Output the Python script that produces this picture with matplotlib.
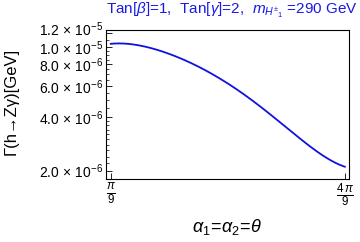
import numpy as np
import matplotlib
matplotlib.use("Agg")
import matplotlib.pyplot as plt
import matplotlib.transforms as mtransforms
from matplotlib.ticker import FixedLocator, NullFormatter

plt.rcParams['font.family'] = ['Liberation Sans', 'DejaVu Sans']
plt.rcParams['mathtext.fontset'] = 'custom'
plt.rcParams['mathtext.rm'] = 'Liberation Sans'
plt.rcParams['mathtext.it'] = 'Liberation Sans:italic'
plt.rcParams['mathtext.sf'] = 'Liberation Sans'

# data
theta = [0.349, 0.411, 0.492, 0.600, 0.747, 0.837, 0.882, 0.985, 1.137, 1.253, 1.396]
gamma = [1.044e-5, 1.046e-5, 1.016e-5, 9.25e-6, 7.62e-6, 6.69e-6, 6.14e-6,
         4.93e-6, 3.48e-6, 2.67e-6, 2.10e-6]
ytick_vals = [2.0e-6, 4.0e-6, 6.0e-6, 8.0e-6, 1.0e-5, 1.2e-5]
ytick_labels = [r'$2.0\,\times\,10^{-6}$', r'$4.0\,\times\,10^{-6}$', r'$6.0\,\times\,10^{-6}$',
                r'$8.0\,\times\,10^{-6}$', r'$1.0\,\times\,10^{-5}$', r'$1.2\,\times\,10^{-5}$']
xtick_vals = [np.pi / 9, 4 * np.pi / 9]
xtick_labels = [r'$\frac{\pi}{9}$', r'$\frac{4\,\pi}{9}$']

# smooth curve through read points (in log space)
tt = np.linspace(theta[0], theta[-1], 300)
coef = np.polyfit(theta, np.log10(gamma), 5)
gg = 10 ** np.polyval(coef, tt)

fig = plt.figure(figsize=(3.6, 2.42), dpi=100)
ax = fig.add_axes([0.294, 0.2603, 0.675, 0.6157])
ax.plot(tt, gg, color='#1010e0', lw=1.3)
ax.set_yscale('log')
ax.set_xlim(0.327, 1.414)
ax.set_ylim(1.79e-6, 1.25e-5)

ax.yaxis.set_major_locator(FixedLocator(ytick_vals))
ax.set_yticklabels(ytick_labels)
minor = [1.8e-6, 2.2e-6, 2.4e-6, 2.6e-6, 2.8e-6, 3.0e-6, 3.2e-6, 3.4e-6, 3.6e-6, 3.8e-6,
         4.5e-6, 5.0e-6, 5.5e-6, 6.5e-6, 7.0e-6, 7.5e-6, 8.5e-6, 9.0e-6, 9.5e-6, 1.1e-5]
ax.yaxis.set_minor_locator(FixedLocator(minor))
ax.yaxis.set_minor_formatter(NullFormatter())
ax.set_xticks(xtick_vals)
ax.set_xticklabels(xtick_labels)
ax.tick_params(axis='both', which='major', direction='in', length=4, width=0.6,
               labelsize=10, pad=2)
ax.tick_params(axis='y', which='minor', direction='in', length=2, width=0.5)
ax.tick_params(axis='x', which='major', labelsize=12, pad=2)
for s in ax.spines.values():
    s.set_linewidth(0.8)

# nudge the top label up slightly so it does not touch the next one
top = ax.get_yticklabels()[-1]
top.set_transform(top.get_transform() + mtransforms.ScaledTranslation(0, 3.5 / 72, fig.dpi_scale_trans))

ax.set_ylabel('Γ(h→Zγ)[GeV]', fontsize=12)
ax.yaxis.set_label_coords(-0.36, 0.52)
ax.set_xlabel(r'$\alpha_1\!=\!\alpha_2\!=\!\theta$', fontsize=13, labelpad=6)
fig.text(0.993, 0.955, r'Tan[$\beta$]=1,  Tan[$\gamma$]=2,  $m_{H^{\pm}{}_{1}}$ =290 GeV',
         color='#1a1ae6', fontsize=11, ha='right', va='center')

fig.savefig('out.png', dpi=100)
